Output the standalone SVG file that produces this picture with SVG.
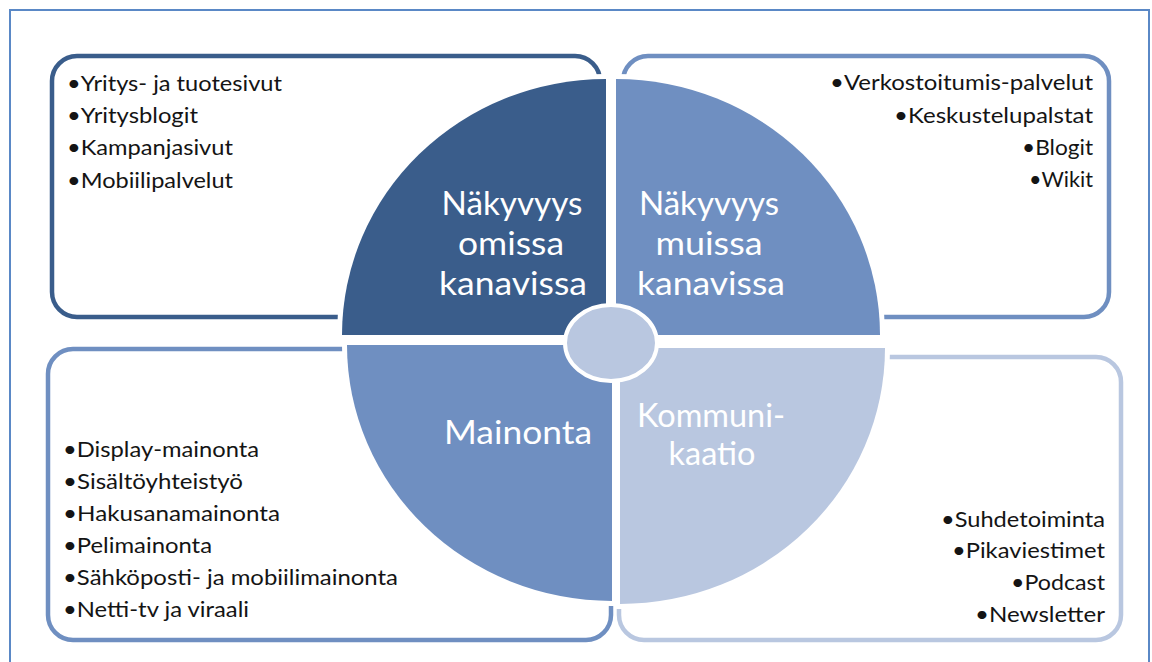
<svg xmlns="http://www.w3.org/2000/svg" width="1152" height="662" viewBox="0 0 1152 662">
  <style>
    .frame { fill: none; stroke: #5a88c6; stroke-width: 2; }
    .box { fill: #ffffff; stroke-width: 4.5; }
    .quad { stroke: #ffffff; stroke-width: 10; paint-order: stroke; }
    .label { font-family: Lato, "Open Sans", sans-serif; font-size: 32px; fill: #ffffff; text-anchor: middle; }
    .item { font-family: Lato, "Open Sans", sans-serif; font-size: 22px; fill: #141414; }
    .end { text-anchor: end; }
    .c1 { fill: #3a5d8b; }
    .c2 { fill: #6f8fc1; }
    .c3 { fill: #b9c7e0; }
    .s1 { stroke: #3a5d8b; }
    .s2 { stroke: #6f8fc1; }
    .s3 { stroke: #b9c7e0; }
  </style>

  <rect width="1152" height="662" fill="#ffffff"/>
  <rect class="frame" x="10" y="10" width="1139" height="700"/>

  <!-- outer text panels (drawn first, partly covered by the pie) -->
  <g id="panels">
    <rect id="panel-own" class="box s1" x="52" y="56" width="548" height="261" rx="25"/>
    <rect id="panel-other" class="box s2" x="623" y="56" width="486" height="261" rx="25"/>
    <rect id="panel-ads" class="box s2" x="48" y="349" width="563" height="291" rx="25"/>
    <rect id="panel-comm" class="box s3" x="619" y="357" width="502" height="283" rx="25"/>
  </g>

  <g id="connectors"/>

  <!-- quadrant: own channels -->
  <g id="node-own">
    <path class="quad c1" d="M606,335 H342 A264,256 0 0 1 606,79 Z"/>
    <text class="label" x="512" y="215" textLength="141" lengthAdjust="spacingAndGlyphs">Näkyvyys</text>
    <text class="label" x="511" y="255" textLength="106" lengthAdjust="spacingAndGlyphs">omissa</text>
    <text class="label" x="513" y="295" textLength="148" lengthAdjust="spacingAndGlyphs">kanavissa</text>
    <g class="item">
      <text x="67" y="90.5" textLength="215" lengthAdjust="spacingAndGlyphs">•Yritys- ja tuotesivut</text>
      <text x="67" y="122.5" textLength="131" lengthAdjust="spacingAndGlyphs">•Yritysblogit</text>
      <text x="67" y="155" textLength="166" lengthAdjust="spacingAndGlyphs">•Kampanjasivut</text>
      <text x="67" y="187.5" textLength="166" lengthAdjust="spacingAndGlyphs">•Mobiilipalvelut</text>
    </g>
  </g>

  <!-- quadrant: other channels -->
  <g id="node-other">
    <path class="quad c2" d="M616,335 V79 A264,256 0 0 1 880,335 Z"/>
    <text class="label" x="709" y="215" textLength="140" lengthAdjust="spacingAndGlyphs">Näkyvyys</text>
    <text class="label" x="709" y="255" textLength="107" lengthAdjust="spacingAndGlyphs">muissa</text>
    <text class="label" x="711" y="295" textLength="148" lengthAdjust="spacingAndGlyphs">kanavissa</text>
    <g class="item end">
      <text x="1093" y="90" textLength="263" lengthAdjust="spacingAndGlyphs">•Verkostoitumis-palvelut</text>
      <text x="1093" y="122.5" textLength="199" lengthAdjust="spacingAndGlyphs">•Keskustelupalstat</text>
      <text x="1093" y="155" textLength="71" lengthAdjust="spacingAndGlyphs">•Blogit</text>
      <text x="1093" y="187" textLength="64" lengthAdjust="spacingAndGlyphs">•Wikit</text>
    </g>
  </g>

  <!-- quadrant: advertising -->
  <g id="node-ads">
    <path class="quad c2" d="M612,345 V601 A265,256 0 0 1 347,345 Z"/>
    <text class="label" x="518" y="444" textLength="148" lengthAdjust="spacingAndGlyphs">Mainonta</text>
    <g class="item">
      <text x="63" y="456.5" textLength="196" lengthAdjust="spacingAndGlyphs">•Display-mainonta</text>
      <text x="63" y="489" textLength="180" lengthAdjust="spacingAndGlyphs">•Sisältöyhteistyö</text>
      <text x="63" y="521" textLength="217" lengthAdjust="spacingAndGlyphs">•Hakusanamainonta</text>
      <text x="63" y="553" textLength="149" lengthAdjust="spacingAndGlyphs">•Pelimainonta</text>
      <text x="63" y="585" textLength="335" lengthAdjust="spacingAndGlyphs">•Sähköposti- ja mobiilimainonta</text>
      <text x="63" y="617" textLength="186" lengthAdjust="spacingAndGlyphs">•Netti-tv ja viraali</text>
    </g>
  </g>

  <!-- quadrant: communication -->
  <g id="node-comm">
    <path class="quad c3" d="M620,348 H885 A265,256 0 0 1 620,604 Z"/>
    <text class="label" x="711" y="427" textLength="148" lengthAdjust="spacingAndGlyphs">Kommuni-</text>
    <text class="label" x="712" y="465" textLength="87" lengthAdjust="spacingAndGlyphs">kaatio</text>
    <g class="item end">
      <text x="1105" y="527" textLength="164" lengthAdjust="spacingAndGlyphs">•Suhdetoiminta</text>
      <text x="1105" y="558" textLength="153" lengthAdjust="spacingAndGlyphs">•Pikaviestimet</text>
      <text x="1105" y="590" textLength="94" lengthAdjust="spacingAndGlyphs">•Podcast</text>
      <text x="1105" y="622" textLength="130" lengthAdjust="spacingAndGlyphs">•Newsletter</text>
    </g>
  </g>

  <!-- centre hub -->
  <g id="node-hub">
    <ellipse cx="611" cy="343" rx="46" ry="38" fill="#b9c7e0" stroke="#ffffff" stroke-width="4"/>
  </g>
</svg>
